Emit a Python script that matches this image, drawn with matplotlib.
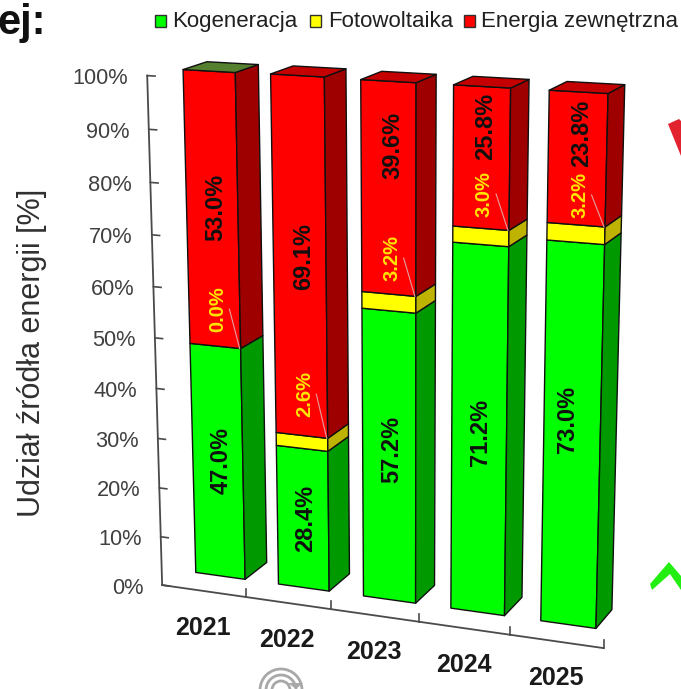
import numpy as np
import matplotlib
matplotlib.use('Agg')
import matplotlib.pyplot as plt
from matplotlib.patches import Polygon, Rectangle, Circle

plt.rcParams['font.family'] = ['Liberation Sans', 'DejaVu Sans']

years = ['2021', '2022', '2023', '2024', '2025']
kogeneracja = [47.0, 28.4, 57.2, 71.2, 73.0]
fotowoltaika = [0.0, 2.6, 3.2, 3.0, 3.2]
zewnetrzna = [53.0, 69.1, 39.6, 25.8, 23.8]
series_names = ['Kogeneracja', 'Fotowoltaika', 'Energia zewnętrzna']
y_ticks = [0, 10, 20, 30, 40, 50, 60, 70, 80, 90, 100]

# heights at which the value labels sit on each bar, and their sideways nudge in pixels
green_label_h = [23.9, 14.2, 30.2, 35.5, 40.0]
red_label_h = [74.2, 66.0, 88.2, 92.8, 92.6]
yellow_label_lift = [7.3, 8.2, 6.8, 6.3, 5.4]
green_label_dx = [3, 3, 3, 1, -5]

GREEN = ('#00FF00', '#009A00')
YELLOW = ('#FFFF00', '#BDB300')
RED = ('#FF0000', '#9E0000')
TOP_COLORS = ['#55802F', '#C40000', '#C40000', '#C40000', '#C40000']

# perspective view of the box: (u along years, h in percent, d into the depth)
VIEW = np.array([[78.72768556, -0.23019878, 26.29778165, 181.94269134],
                 [3.63571993, -5.05642877, -6.22685732, 570.50810171],
                 [-0.01354102, -0.00056462, 0.01862085, 1.0]])
AXIS_D = -0.85
BAR_U0 = 0.17
BAR_U1 = 0.77


def project(u, h, d):
    q = VIEW @ np.array([u, h, d, 1.0])
    return q[0] / q[2], q[1] / q[2]


def bar_segment(ax, i, h0, h1, colors):
    a = i + BAR_U0
    b = i + BAR_U1
    front = [project(a, h0, 0), project(b, h0, 0), project(b, h1, 0), project(a, h1, 0)]
    side = [project(b, h0, 0), project(b, h0, 1), project(b, h1, 1), project(b, h1, 0)]
    ax.add_patch(Polygon(front, fc=colors[0], ec='#101010', lw=1.0, joinstyle='round'))
    ax.add_patch(Polygon(side, fc=colors[1], ec='#101010', lw=1.0, joinstyle='round'))


fig = plt.figure(figsize=(6.81, 6.89), dpi=100)
ax = fig.add_axes([0, 0, 1, 1])
ax.set_xlim(0, 681)
ax.set_ylim(689, 0)
ax.axis('off')

# axis lines and ticks
axis_color = '#4A4A4A'
x0, y0 = project(0, 0, AXIS_D)
x1, y1 = project(0, 100, AXIS_D)
ax.plot([x0, x1], [y0, y1], color=axis_color, lw=1.3)
x2, y2 = project(5, 0, AXIS_D)
ax.plot([x0, x2], [y0, y2], color=axis_color, lw=1.3)
for t in y_ticks:
    tx, ty = project(0, t, AXIS_D)
    ex, ey = project(0.09, t, AXIS_D)
    ax.plot([tx, ex], [ty, ey], color=axis_color, lw=1.2)
    ax.text(tx - 19, ty + 3, '%d%%' % t, ha='right', va='center', fontsize=15.7, color='#404040')
for k in range(1, 6):
    tx, ty = project(k, 0, AXIS_D)
    ax.plot([tx, tx], [ty, ty - 8], color=axis_color, lw=1.2)

ax.text(32, 353, 'Udział źródła energii [%]', rotation=90, ha='center', va='center',
        fontsize=22, color='#303030')

# stacked bars with their value labels
for i, year in enumerate(years):
    g = kogeneracja[i]
    f = fotowoltaika[i]
    r = zewnetrzna[i]
    top = g + f
    bar_segment(ax, i, 0, g, GREEN)
    if f > 0:
        bar_segment(ax, i, g, top, YELLOW)
    bar_segment(ax, i, top, top + r, RED)

    a = i + BAR_U0
    b = i + BAR_U1
    cap = [project(a, top + r, 0), project(b, top + r, 0), project(b, top + r, 1), project(a, top + r, 1)]
    ax.add_patch(Polygon(cap, fc=TOP_COLORS[i], ec='#101010', lw=1.0, joinstyle='round'))

    mid = (a + b) / 2
    gx, gy = project(mid, green_label_h[i], 0)
    ax.text(gx + green_label_dx[i], gy, '%.1f%%' % g, rotation=90, ha='center', va='center',
            fontsize=17, fontweight='bold', color='#101010')
    rx, ry = project(mid, red_label_h[i], 0)
    ax.text(rx + 4, ry, '%.1f%%' % r, rotation=90, ha='center', va='center',
            fontsize=17, fontweight='bold', color='#101010')

    # small photovoltaic share sits above its segment with a leader line
    lx, ly = project(mid, top + yellow_label_lift[i], 0)
    ax.text(lx + 3, ly, '%.1f%%' % f, rotation=90, ha='center', va='center',
            fontsize=14.5, fontweight='bold', color='#FFE600')
    ex, ey = project(b, top, 0)
    ax.plot([lx + 15, ex - 1], [ly, ey], color='#E0A0A0', lw=0.8)

    tx, ty = project(i + 0.5, 0, AXIS_D)
    ax.text(tx - 1, ty + 37, year, ha='center', va='center', fontsize=18, fontweight='bold', color='#1A1A1A')

# legend along the top
legend_x = [155, 310, 464]
text_x = [172, 328, 481]
for lx, tx, name, c in zip(legend_x, text_x, series_names, [GREEN[0], YELLOW[0], RED[0]]):
    ax.add_patch(Rectangle((lx, 15), 11, 12, fc=c, ec='#303030', lw=1.0))
    ax.text(tx, 27, name, ha='left', va='baseline', fontsize=16, color='#202020')

# leftovers of the surrounding slide
ax.text(-3, 23, 'ej:', ha='left', va='center', fontsize=30, fontweight='bold', color='#111111')
ax.add_patch(Polygon([(668, 124), (679, 119), (681, 121), (681, 156)], fc='#E3222F', ec='none'))
ax.add_patch(Polygon([(650, 584), (669, 562), (681, 576), (681, 590), (670, 574), (652, 590)],
                     fc='#22EE11', ec='none'))
for rad, lw in [(21, 2.0), (15, 2.0), (9, 2.0)]:
    ax.add_patch(Circle((281, 690), rad, fc='none', ec='#A8A8A8', lw=lw))
ax.add_patch(Polygon([(288, 683), (303, 683), (296, 689)], fc='#A8A8A8', ec='none'))

fig.savefig('out.png', dpi=100)
